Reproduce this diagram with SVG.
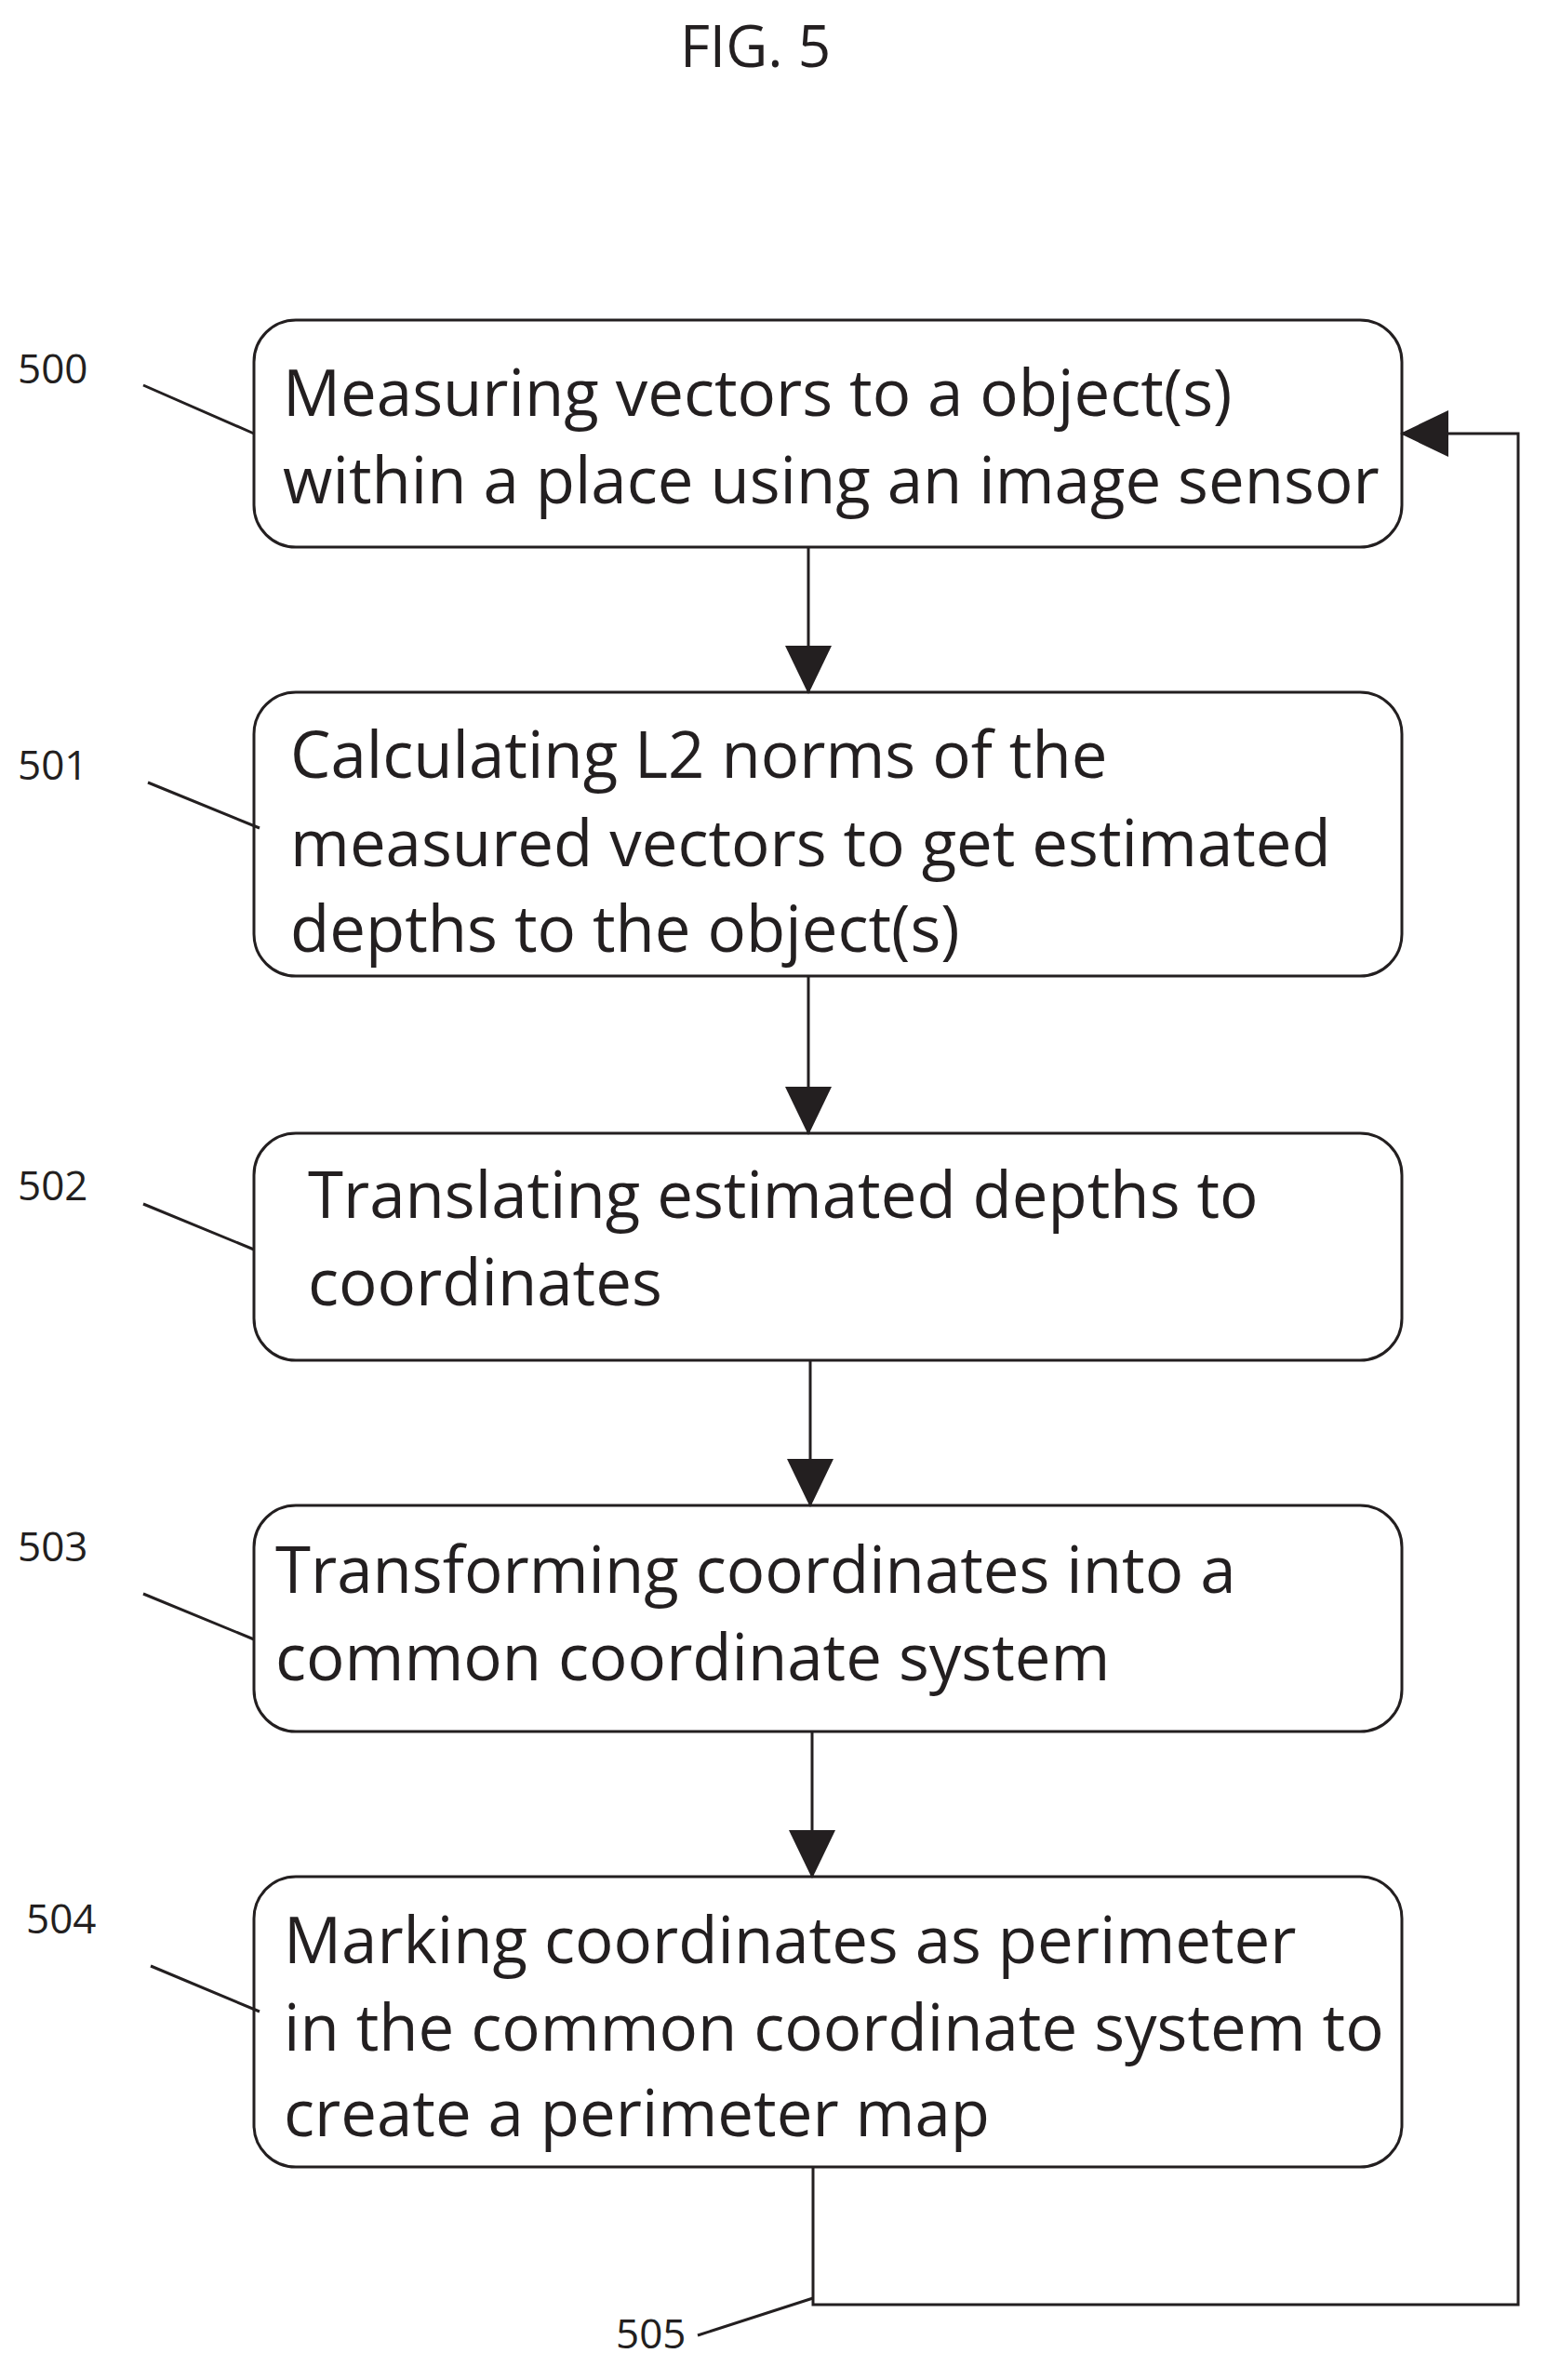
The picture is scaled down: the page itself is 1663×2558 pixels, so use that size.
<svg xmlns="http://www.w3.org/2000/svg" width="1663" height="2558" viewBox="0 0 1663 2558">
<style>
.box{fill:#fff;stroke:#231f20;stroke-width:3}
.t{font-family:"Open Sans","Liberation Sans",sans-serif;font-size:69px;fill:#231f20}
.l{font-family:"Open Sans","Liberation Sans",sans-serif;font-size:44px;fill:#231f20}
.c{stroke:#231f20;stroke-width:3;fill:none}
</style>
<defs><marker id="b" markerWidth="52" markerHeight="50" refX="50" refY="25" orient="auto" markerUnits="userSpaceOnUse"><path d="M0,0 L52,25 L0,50 Z" fill="#231f20"/></marker></defs>
<rect width="1663" height="2558" fill="#fff"/>
<text x="812" y="72" text-anchor="middle" font-family="Open Sans,Liberation Sans,sans-serif" font-size="62" fill="#231f20">FIG. 5</text>
<g id="n500"><rect class="box" x="273" y="344" width="1234" height="244" rx="45"/><text class="t" x="304" y="447">Measuring vectors to a object(s)</text><text class="t" x="304" y="541">within a place using an image sensor</text></g>
<g id="n501"><rect class="box" x="273" y="744" width="1234" height="305" rx="45"/><text class="t" x="312" y="836">Calculating L2 norms of the</text><text class="t" x="312" y="931">measured vectors to get estimated</text><text class="t" x="312" y="1023">depths to the object(s)</text></g>
<g id="n502"><rect class="box" x="273" y="1218" width="1234" height="244" rx="45"/><text class="t" x="331" y="1309">Translating estimated depths to</text><text class="t" x="331" y="1403">coordinates</text></g>
<g id="n503"><rect class="box" x="273" y="1618" width="1234" height="243" rx="45"/><text class="t" x="296" y="1712">Transforming coordinates into a</text><text class="t" x="296" y="1806">common coordinate system</text></g>
<g id="n504"><rect class="box" x="273" y="2017" width="1234" height="312" rx="45"/><text class="t" x="305" y="2110">Marking coordinates as perimeter</text><text class="t" x="305" y="2204">in the common coordinate system to</text><text class="t" x="305" y="2296">create a perimeter map</text></g>
<g id="labels">
<text class="l" x="19" y="412">500</text><text class="l" x="19" y="838">501</text><text class="l" x="19" y="1290">502</text><text class="l" x="19" y="1678">503</text><text class="l" x="28" y="2078">504</text><text class="l" x="662" y="2524">505</text>
<path class="c" stroke-width="2" d="M154,414 L273,466 M159,841 L279,890 M154,1294 L273,1343 M154,1713 L273,1762 M162,2113 L279,2162 M750,2510 L874,2470"/>
</g>
<g id="connectors">
<path class="c" d="M869,588 V744" marker-end="url(#b)"/>
<path class="c" d="M869,1049 V1218" marker-end="url(#b)"/>
<path class="c" d="M871,1462 V1618" marker-end="url(#b)"/>
<path class="c" d="M873,1861 V2017" marker-end="url(#b)"/>
<path class="c" d="M874,2329 V2477 H1632 V466 H1507" marker-end="url(#b)"/>
</g>
</svg>
